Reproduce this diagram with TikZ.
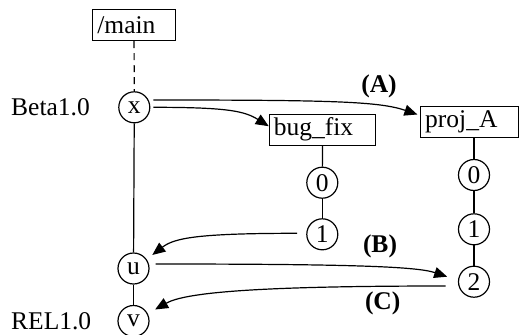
\documentclass[tikz,border=0pt]{standalone}
\usepackage{fontspec}
\setmainfont{Liberation Serif}
\usetikzlibrary{arrows.meta}
\begin{document}
\begin{tikzpicture}[x=1pt,y=-1pt,
  every node/.style={font=\fontsize{25.5}{30}\selectfont},
  revnode/.style={draw, circle, line width=1.2pt, minimum size=31pt, inner sep=0pt},
  branchbox/.style={draw, rectangle, line width=1.2pt, minimum height=31pt,
    inner ysep=0pt, inner xsep=4.5pt, align=left},
  tagtext/.style={inner sep=0pt, anchor=west},
  notelabel/.style={font=\fontsize{25.5}{30}\selectfont\bfseries, inner sep=0pt},
  stem/.style={line width=1.2pt},
  mergearrow/.style={line width=1.2pt, -{Triangle[length=13pt,width=11pt]}},
]
\useasboundingbox (0,0) rectangle (520,335);

% trunk
\node[branchbox, text width=73.3pt] (main) at (134,25) {/main};
\node[revnode] (x) at (134.3,107.3) {x};
\node[revnode] (u) at (133.5,268.5) {u};
\node[revnode] (v) at (133.5,321) {v};
\node[tagtext] (beta) at (11,107.3) {Beta1.0};
\node[tagtext] (rel) at (11,321) {REL1.0};

% bug_fix branch
\node[branchbox, text width=97.4pt] (bugfix) at (322.5,129.7) {bug\_fix};
\node[revnode] (b0) at (322.3,182.7) {0};
\node[revnode] (b1) at (322.3,234.3) {1};

% proj_A branch
\node[branchbox, text width=88.8pt] (proja) at (469.6,122) {proj\_A};
\node[revnode] (p0) at (474,175) {0};
\node[revnode] (p1) at (474,229.3) {1};
\node[revnode] (p2) at (474,281.7) {2};

% operation labels
\node[notelabel] (opA) at (379,86) {(A)};
\node[notelabel] (opB) at (380,246.7) {(B)};
\node[notelabel] (opC) at (382.7,303.3) {(C)};

% history lines
\draw[stem, dash pattern=on 7pt off 5pt] (main) -- (x);
\draw[stem] (x) -- (u);
\draw[stem] (u) -- (v);
\draw[stem] (bugfix.south) -- (b0);
\draw[stem] (b0) -- (b1);
\draw[stem] (proja.south -| p0) -- (p0);
\draw[stem] (p0) -- (p1);
\draw[stem] (p1) -- (p2);

% branching and merging
\draw[mergearrow] ([shift={(3,-7.3)}]x.east) .. controls +(180,0) and +(-38,-13) .. ([shift={(-2.7,-7.5)}]proja.west);
\draw[mergearrow] ([shift={(3,0)}]x.east) .. controls +(75,0) and +(-24,-15) .. ([shift={(0,-3.5)}]bugfix.west);
\draw[mergearrow] ([shift={(-9,-1)}]b1.west) .. controls +(-100,0) and +(22,-17) .. ([shift={(2.7,-13.5)}]u.east);
\draw[mergearrow] ([shift={(6,-4.5)}]u.east) .. controls +(200,0) and +(-30,-10) .. ([shift={(-10.7,-5)}]p2.west);
\draw[mergearrow] ([shift={(-12.3,4.3)}]p2.west) .. controls +(-190,0) and +(30,-17) .. ([shift={(5.5,-11.5)}]v.east);
\end{tikzpicture}
\end{document}
